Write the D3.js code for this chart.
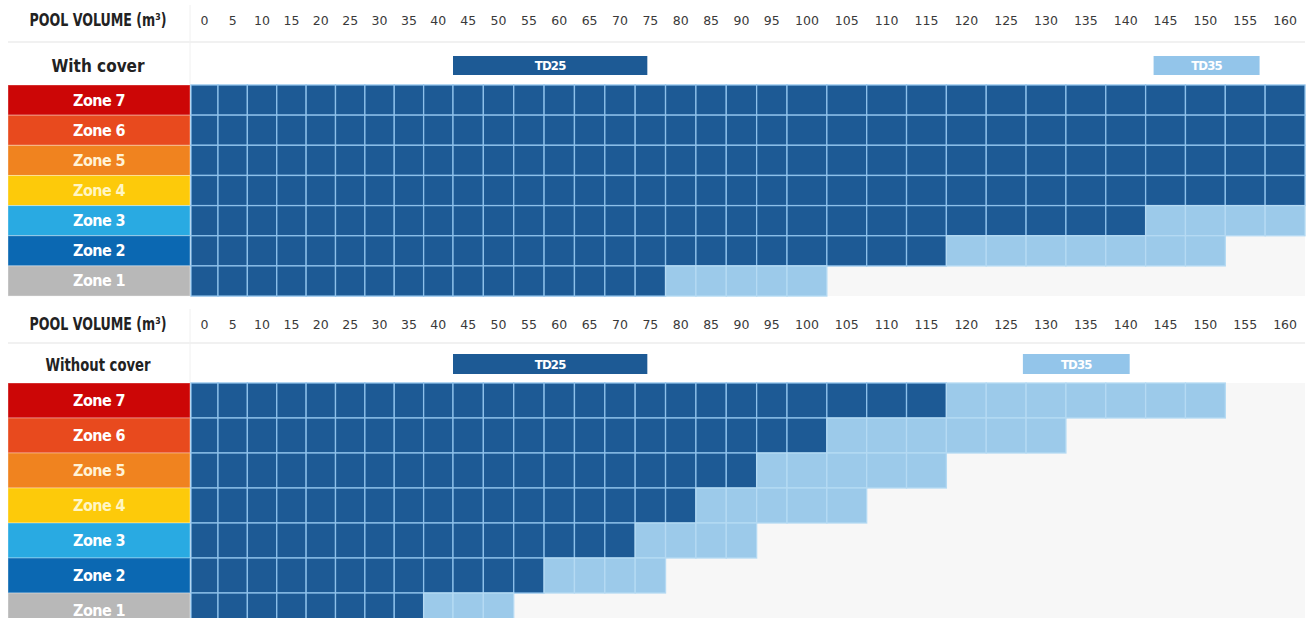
<!DOCTYPE html>
<html>
<head>
<meta charset="utf-8">
<script src="https://cdn.jsdelivr.net/npm/d3@7"></script>
<style>
  html, body { margin: 0; padding: 0; background: #ffffff; }
  svg { display: block; }
</style>
</head>
<body>
<svg id="chart" width="1311" height="618"></svg>
<script>
// ---------- DATA ----------
const volumeTicks = [0,5,10,15,20,25,30,35,40,45,50,55,60,65,70,75,80,85,90,95,100,105,110,115,120,125,130,135,140,145,150,155,160];
const zones = ["Zone 7","Zone 6","Zone 5","Zone 4","Zone 3","Zone 2","Zone 1"];
const zoneColors = ["#cc0606","#e84a1e","#f0831f","#fdca0a","#29aae2","#0b68b2","#b8b8b8"];
const zoneTextColors = ["#ffffff","#ffffff","#fff3d6","#fff6c4","#ffffff","#ffffff","#ffffff"];

// last volume (m³) covered by model TD25 (dark) and by TD35 (light), per zone
const withCoverDark    = [160,160,160,160,140,115,75];
const withCoverLight   = [160,160,160,160,160,150,100];
const withoutCoverDark = [115,100,90,80,70,55,35];
const withoutCoverLight= [150,130,115,105,90,75,50];

// model range bars [start, end]
const withCoverTD25 = [45, 77];
const withCoverTD35 = [146, 159.3];
const withoutCoverTD25 = [45, 77];
const withoutCoverTD35 = [129.6, 143];

const sectionTitles = ["With cover","Without cover"];
const headerTitle = "POOL VOLUME (m³)";
const modelNames = ["TD25","TD35"];

// ---------- STYLE ----------
const DARK = "#1d5a95";
const LIGHT = "#9ccaea";
const GRIDLINE = "#8dc0ea";
const EMPTY = "#f7f7f7";

const svg = d3.select("#chart");
// column scale: cells of 5 m³, narrower up to 100, wider above
const x = d3.scaleLinear().domain([0, 5, 45, 100, 165]).range([191, 218, 453, 787, 1305]);

const condensed = "'DejaVu Sans Condensed', 'Liberation Sans Narrow', 'Roboto Condensed', sans-serif";
const tickFont = "'DejaVu Sans', 'Noto Sans', sans-serif";

function drawSection(cfg) {
  const g = svg.append("g");
  const y = d3.scaleBand().domain(zones).range([cfg.rowTop, cfg.rowTop + cfg.rowH * zones.length]);

  // header title
  g.append("text")
    .attr("x", 98).attr("y", cfg.headerY + 1)
    .attr("text-anchor", "middle")
    .attr("font-family", condensed)
    .attr("font-weight", "bold")
    .attr("font-size", 17)
    .attr("fill", "#222")
    .attr("textLength", 137).attr("lengthAdjust", "spacingAndGlyphs")
    .text(headerTitle);

  // ticks
  g.append("g").selectAll("text").data(volumeTicks).join("text")
    .attr("x", d => (x(d) + x(d + 5)) / 2)
    .attr("y", cfg.headerY)
    .attr("text-anchor", "middle")
    .attr("font-family", tickFont)
    .attr("font-size", 12.5)
    .attr("fill", "#3a3a3a")
    .text(d => d);

  // separator
  g.append("line")
    .attr("x1", 8).attr("x2", 1305)
    .attr("y1", cfg.sepY).attr("y2", cfg.sepY)
    .attr("stroke", "#ececec").attr("stroke-width", 1.5);
  g.append("line")
    .attr("x1", 190).attr("x2", 190)
    .attr("y1", cfg.headerY - 20).attr("y2", cfg.rowTop)
    .attr("stroke", "#f0f0f0").attr("stroke-width", 1);

  // section subtitle
  g.append("text")
    .attr("x", 98).attr("y", cfg.subY)
    .attr("text-anchor", "middle")
    .attr("font-family", condensed)
    .attr("font-weight", "bold")
    .attr("font-size", 17)
    .attr("fill", "#222")
    .attr("textLength", cfg.subW).attr("lengthAdjust", "spacingAndGlyphs")
    .text(cfg.title);

  // model bars
  const bars = [
    {name: modelNames[0], r: cfg.td25, color: DARK},
    {name: modelNames[1], r: cfg.td35, color: "#93c5ea"}
  ];
  const bg = g.append("g").selectAll("g").data(bars).join("g");
  bg.append("rect")
    .attr("x", d => x(d.r[0]))
    .attr("width", d => x(d.r[1]) - x(d.r[0]))
    .attr("y", cfg.barY).attr("height", cfg.barH)
    .attr("fill", d => d.color);
  bg.append("text")
    .attr("x", d => (x(d.r[0]) + x(d.r[1])) / 2)
    .attr("y", cfg.barY + cfg.barH / 2 + 4.5)
    .attr("text-anchor", "middle")
    .attr("font-family", condensed)
    .attr("font-weight", "bold")
    .attr("font-size", 13)
    .attr("fill", "#ffffff")
    .attr("letter-spacing", -0.8)
    .text(d => d.name);

  // empty grid background
  g.append("rect")
    .attr("x", x(0)).attr("width", x(165) - x(0))
    .attr("y", y.range()[0]).attr("height", y.range()[1] - y.range()[0])
    .attr("fill", EMPTY);

  // zone labels
  const zl = g.append("g").selectAll("g").data(zones).join("g");
  zl.append("rect")
    .attr("x", 8).attr("width", 182)
    .attr("y", d => y(d)).attr("height", y.bandwidth())
    .attr("fill", (d, i) => zoneColors[i])
    .attr("stroke", "#ffffff").attr("stroke-opacity", 0.35).attr("stroke-width", 1);
  zl.append("text")
    .attr("x", 99)
    .attr("y", d => y(d) + y.bandwidth() / 2 + 5.5)
    .attr("text-anchor", "middle")
    .attr("font-family", condensed)
    .attr("font-weight", "bold")
    .attr("font-size", 16)
    .attr("fill", (d, i) => zoneTextColors[i])
    .attr("letter-spacing", -0.6)
    .text(d => d);

  // cells
  const cells = [];
  zones.forEach((z, i) => {
    volumeTicks.forEach(v => {
      if (v <= cfg.light[i]) cells.push({zone: z, v: v, dark: v <= cfg.dark[i]});
    });
  });
  g.append("g").selectAll("rect").data(cells).join("rect")
    .attr("x", d => x(d.v))
    .attr("width", d => x(d.v + 5) - x(d.v))
    .attr("y", d => y(d.zone))
    .attr("height", y.bandwidth())
    .attr("fill", d => d.dark ? DARK : LIGHT)
    .attr("stroke", d => d.dark ? GRIDLINE : "#b5daf3")
    .attr("stroke-width", 1.3);
}

drawSection({
  headerY: 25, sepY: 42, subY: 72, subW: 93, title: sectionTitles[0],
  barY: 56, barH: 19, td25: withCoverTD25, td35: withCoverTD35,
  rowTop: 85, rowH: 30.15, dark: withCoverDark, light: withCoverLight
});

drawSection({
  headerY: 329, sepY: 343, subY: 371, subW: 105, title: sectionTitles[1],
  barY: 354, barH: 20, td25: withoutCoverTD25, td35: withoutCoverTD35,
  rowTop: 383, rowH: 35, dark: withoutCoverDark, light: withoutCoverLight
});
</script>
</body>
</html>
